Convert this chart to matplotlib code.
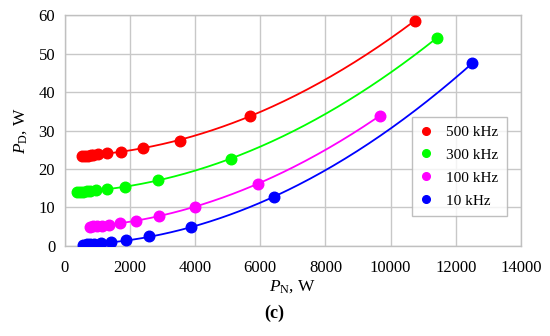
import numpy as np
import matplotlib
matplotlib.use("Agg")
import matplotlib.pyplot as plt

labels = ["500 kHz", "300 kHz", "100 kHz", "10 kHz"]
colors = ["#ff0000", "#00ff00", "#ff00ff", "#0000ff"]

pn_500 = [532, 614, 696, 788, 870, 1023, 1300, 1709, 2385, 3531, 5680, 10737]
pd_500 = [23.4, 23.45, 23.5, 23.6, 23.7, 23.9, 24.2, 24.5, 25.4, 27.4, 33.8, 58.5]
pn_300 = [358, 460, 563, 665, 767, 941, 1279, 1842, 2845, 5087, 11422]
pd_300 = [14.0, 14.05, 14.1, 14.2, 14.3, 14.5, 14.8, 15.4, 17.1, 22.6, 54.1]
pn_100 = [767, 870, 993, 1126, 1361, 1689, 2180, 2886, 4002, 5936, 9661]
pd_100 = [5.0, 5.1, 5.2, 5.3, 5.5, 5.9, 6.6, 7.8, 10.2, 16.2, 33.8]
pn_10 = [563, 665, 767, 890, 1095, 1402, 1873, 2590, 3879, 6417, 12507]
pd_10 = [0.35, 0.4, 0.43, 0.5, 0.69, 0.95, 1.5, 2.5, 4.9, 12.7, 47.5]

series = [(pn_500, pd_500), (pn_300, pd_300), (pn_100, pd_100), (pn_10, pd_10)]

plt.rcParams['font.family'] = ['Liberation Serif', 'DejaVu Serif']
plt.rcParams['mathtext.fontset'] = 'custom'
plt.rcParams['mathtext.it'] = 'Liberation Serif:italic'
plt.rcParams['mathtext.rm'] = 'Liberation Serif'

fig = plt.figure(figsize=(5.5, 3.36), dpi=100)
ax = fig.add_axes([0.118, 0.268, 0.829, 0.687])

for (x, y), c, lab in zip(series, colors, labels):
    x = np.array(x, float); y = np.array(y, float)
    coef = np.polyfit(x, y, 2)
    xs = np.linspace(x.min(), x.max(), 200)
    ax.plot(xs, np.polyval(coef, xs), color=c, lw=1.3, zorder=3)
    ax.plot(x, y, 'o', color=c, ms=7.6, zorder=4, label=lab)

ax.set_xlim(0, 14000)
ax.set_ylim(0, 60)
ax.set_xticks(np.arange(0, 14001, 2000))
ax.set_yticks(np.arange(0, 61, 10))
ax.grid(True, color="#c8c8c8", lw=1.0)
ax.set_axisbelow(True)
for s in ax.spines.values():
    s.set_color("#c0c0c0")
    s.set_linewidth(1.0)
ax.tick_params(length=0, labelsize=12, colors="black")
ax.tick_params(axis='x', pad=10)
ax.tick_params(axis='y', pad=7)

ax.set_xlabel(r"$P_{\mathrm{N}}$, W", fontsize=12.5, labelpad=2)
ax.set_ylabel(r"$P_{\mathrm{D}}$, W", fontsize=12.5, labelpad=7)

leg = ax.legend(loc="lower right", bbox_to_anchor=(0.969, 0.13), frameon=True,
                fancybox=False, edgecolor="#b0b0b0", fontsize=11,
                handlelength=0.8, handletextpad=0.9, borderpad=0.55, labelspacing=0.6,
                borderaxespad=0)
leg.get_frame().set_linewidth(1.0)
for h in leg.legend_handles:
    h.set_markersize(5.5)

fig.text(0.498, 0.068, "(c)", ha="center", va="center", fontsize=13, fontweight="bold")

fig.savefig("out.png", dpi=100)
